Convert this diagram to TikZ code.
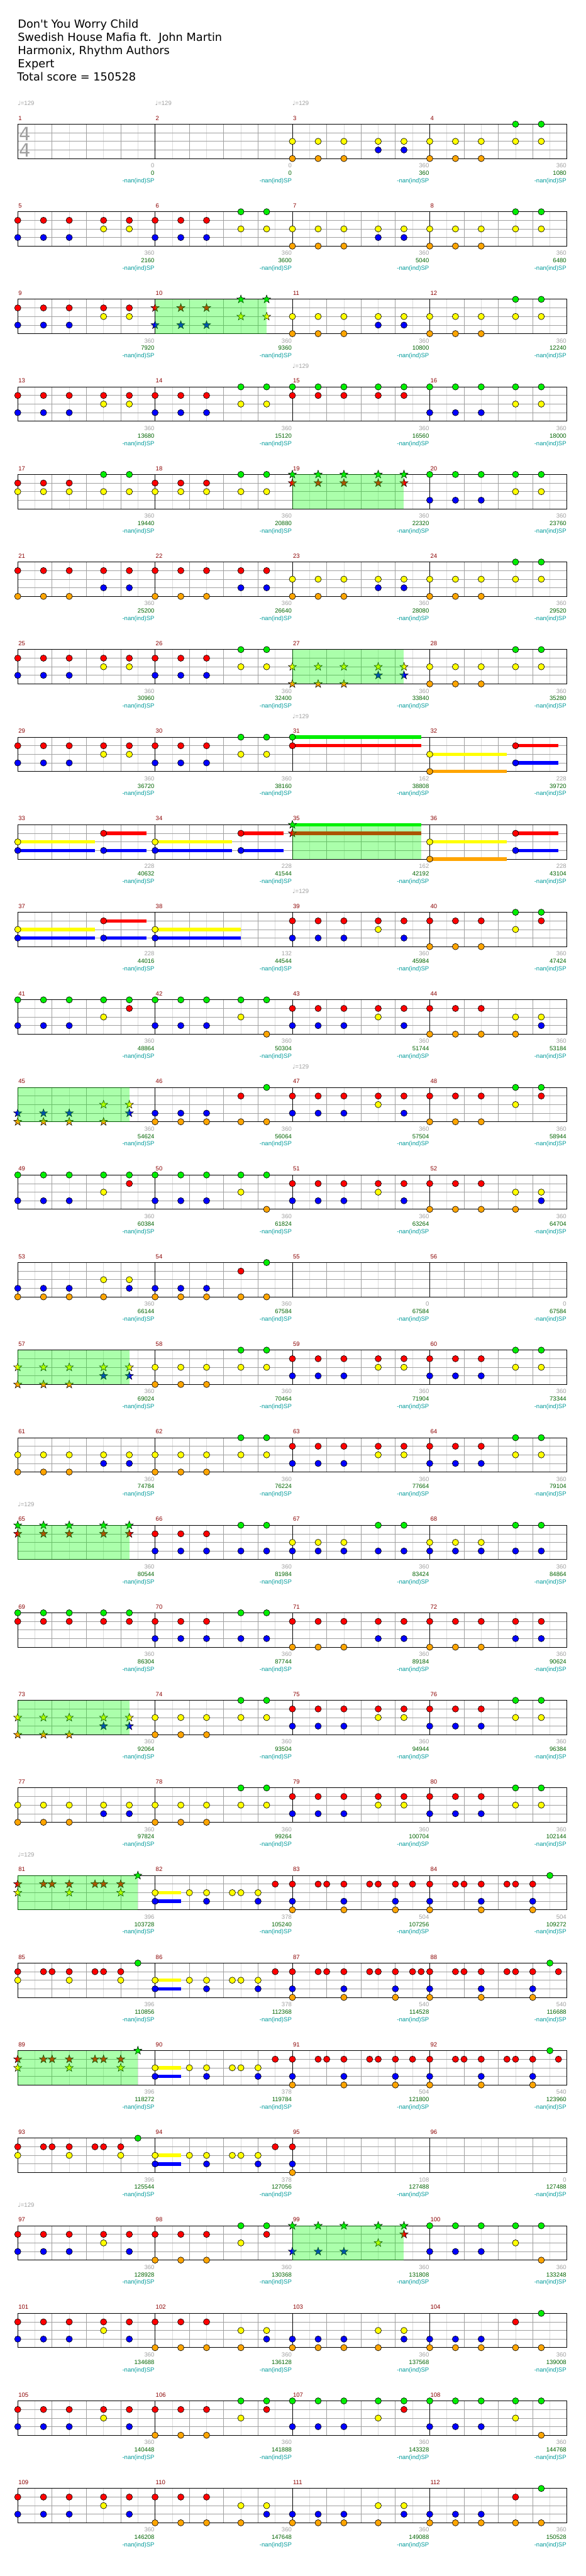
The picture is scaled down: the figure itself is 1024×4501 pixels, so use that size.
\documentclass[tikz,border=0pt]{standalone}
\usepackage{fontspec}
\setmainfont{DejaVu Sans}
\newfontfamily\headfont{DejaVu Sans}
\newfontfamily\smallfont{Liberation Sans}

\definecolor{n-g}{HTML}{00EE00}
\definecolor{n-r}{HTML}{FF0000}
\definecolor{n-y}{HTML}{FFFF00}
\definecolor{n-b}{HTML}{0000FF}
\definecolor{n-o}{HTML}{FFA500}
\definecolor{linegray}{HTML}{A0A0A0}
\definecolor{halfgray}{HTML}{DCDCDC}
\definecolor{numred}{HTML}{8B0000}
\definecolor{totgreen}{HTML}{006400}
\definecolor{spteal}{HTML}{009B9B}
\definecolor{spgreen}{HTML}{00FF00}

% lane of each fret colour, 0 = top line
\def\lng{0}\def\lnr{1}\def\lny{2}\def\lnb{3}\def\lno{4}

% \mx, \my = left edge and top line of measure #1
\newcommand{\morigin}[1]{%
  \pgfmathtruncatemacro{\mrow}{div(#1-1,4)}%
  \pgfmathtruncatemacro{\mcol}{mod(#1-1,4)}%
  \pgfmathsetmacro{\mx}{31+240*\mcol}%
  \pgfmathsetmacro{\my}{217+153*\mrow}}

\newcommand{\gem}[3]{\morigin{#1}%
  \fill[n-#3, draw=black, line width=.7pt]
    ({\mx+60*#2},{\my+15*\csname ln#3\endcsname}) circle (5.5pt);}
\newcommand{\sgem}[3]{\morigin{#1}%
  \draw[fill=n-#3, line width=.6pt,
        shift={({\mx+60*#2},{\my+15*\csname ln#3\endcsname})}]
    (90:7.5pt) -- (126:3pt) -- (162:7.5pt) -- (198:3pt) -- (234:7.5pt)
    -- (270:3pt) -- (306:7.5pt) -- (342:3pt) -- (18:7.5pt) -- (54:3pt) -- cycle;}
\newcommand{\chord}[4][\gem]{\foreach \lane in {#4} {#1{#2}{#3}{\lane}}}
\newcommand{\pat}[7][\gem]{%
  \chord[#1]{#2}{0}{#3}\chord[#1]{#2}{0.75}{#4}\chord[#1]{#2}{1.5}{#5}%
  \chord[#1]{#2}{2.5}{#6}\chord[#1]{#2}{3.25}{#7}}
\newcommand{\sus}[5][\gem]{\morigin{#2}%
  \fill[n-#3] ({\mx+60*#4},{\my+15*\csname ln#3\endcsname-3})
    rectangle ({\mx+60*#5},{\my+15*\csname ln#3\endcsname+3});
  #1{#2}{#4}{#3}}
\newcommand{\riffA}[2][\gem]{%
  \foreach \bt in {0,0.75,1,1.5,2.25,2.5,3} {#1{#2}{\bt}{r}}%
  \foreach \bt in {0,1.5,3} {#1{#2}{\bt}{y}}%
  #1{#2}{3.5}{g}}
\newcommand{\riffB}[1]{%
  \sus{#1}{y}{0}{0.75}\sus{#1}{b}{0}{0.75}%
  \foreach \bt in {1,1.5,2.25,2.5,3} {\gem{#1}{\bt}{y}}%
  \gem{#1}{1.5}{b}\gem{#1}{3}{b}\gem{#1}{3.5}{r}}
\newcommand{\riffC}[1]{%
  \foreach \bt in {0,1.5,3} {\chord{#1}{\bt}{r,b,o}}%
  \foreach \bt in {0.75,1,2.25,2.5} {\gem{#1}{\bt}{r}}}
\newcommand{\sprect}[3]{\morigin{#1}%
  \fill[spgreen, opacity=.33] ({\mx+60*#2},\my) rectangle ({\mx+60*#3},{\my+60});}

\newcommand{\labelsize}{\smallfont\fontsize{10.5}{12}\selectfont}
\tikzset{
  headtext/.style={font=\headfont\fontsize{19.5}{23}\selectfont, anchor=base west, inner sep=0},
  sigtext/.style={font=\headfont\fontsize{32}{32}\selectfont, text=linegray, inner sep=0},
  tempotext/.style={font=\labelsize, text=linegray, anchor=base west, inner sep=0},
  numtext/.style={font=\labelsize, text=numred, anchor=base west, inner sep=0},
  gaintext/.style={font=\labelsize, text=linegray, anchor=base east, inner sep=0},
  tottext/.style={font=\labelsize, text=totgreen, anchor=base east, inner sep=0},
  sptext/.style={font=\labelsize, text=spteal, anchor=base east, inner sep=0}
}

\begin{document}
\begin{tikzpicture}[x=1pt, y=-1pt]
\fill[white] (0,0) rectangle (1024,4501);
\useasboundingbox (0,0) rectangle (1024,4501);

\node[headtext] (title) at (31,49) {Don't You Worry Child};
\node[headtext] (artist) at (31,72) {Swedish House Mafia ft.\ \ John Martin};
\node[headtext] (charter) at (31,95) {Harmonix, Rhythm Authors};
\node[headtext] (level) at (31,118) {Expert};
\node[headtext] (total) at (30,141) {Total score = 150528};

% staves
\foreach \r in {0,...,27} {
  \pgfmathsetmacro{\rowtop}{217+153*\r}
  \foreach \k in {0,...,15}
    {\draw[halfgray, line width=.8pt] ({61+60*\k},\rowtop) -- ++(0,60);}
  \foreach \k in {1,2,3,5,6,7,9,10,11,13,14,15}
    {\draw[linegray, line width=.8pt] ({31+60*\k},\rowtop) -- ++(0,60);}
  \foreach \lanei in {1,2,3}
    {\draw[linegray, line width=.8pt] (31,{\rowtop+15*\lanei}) -- (991,{\rowtop+15*\lanei});}
  \foreach \k in {1,2,3}
    {\draw[line width=.9pt] ({31+240*\k},\rowtop) -- ++(0,60);}
  \draw[line width=1pt] (31,\rowtop) rectangle (991,{\rowtop+60});
}
\node[sigtext] (sig-top) at (44,233.5) {4};
\node[sigtext] (sig-bot) at (44,262.5) {4};

% five hits per measure
\foreach \mm in {3,7,11,23,61,77} {\pat{\mm}{y,o}{y,o}{y,o}{y,b}{y,b}}
\foreach \mm in {27,57,73} {\pat[\sgem]{\mm}{y,o}{y,o}{y,o}{y,b}{y,b}}
\foreach \mm in {4,8,12,24,28,58,62,74,78} {\pat{\mm}{y,o}{y,o}{y,o}{g,y}{g,y}}
\foreach \mm in {5,9,13,25,29,59,63,75,79} {\pat{\mm}{r,b}{r,b}{r,b}{r,y}{r,y}}
\foreach \mm in {6,14,26,30,60,64,76,80} {\pat{\mm}{r,b}{r,b}{r,b}{g,y}{g,y}}
\pat[\sgem]{10}{r,b}{r,b}{r,b}{g,y}{g,y}
\foreach \mm in {15,69} {\pat{\mm}{g,r}{g,r}{g,r}{g,r}{g,r}}
\foreach \mm in {19,65} {\pat[\sgem]{\mm}{g,r}{g,r}{g,r}{g,r}{g,r}}
\foreach \mm in {16,20} {\pat{\mm}{g,b}{g,b}{g,b}{g,y}{g,y}}
\foreach \mm in {17,18} {\pat{\mm}{r,y}{r,y}{r,y}{g,y}{g,y}}
\foreach \mm in {21,22,71,72} {\pat{\mm}{r,o}{r,o}{r,o}{r,b}{r,b}}
\foreach \mm in {39,43,47,51,97,101,105,109} {\pat{\mm}{r,b}{r,b}{r,b}{r,y}{r,b}}
\foreach \mm in {40,48,98,106} {\pat{\mm}{r,o}{r,o}{r,o}{g,y}{g,r}}
\foreach \mm in {41,49,107} {\pat{\mm}{g,b}{g,b}{g,b}{g,y}{g,r}}
\pat[\sgem]{99}{g,b}{g,b}{g,b}{g,y}{g,r}
\foreach \mm in {42,50,100,108} {\pat{\mm}{g,b}{g,b}{g,b}{g,y}{g,o}}
\foreach \mm in {44,52,102,110} {\pat{\mm}{r,o}{r,o}{r,o}{y,o}{y,b}}
\foreach \mm in {53,103,111} {\pat{\mm}{b,o}{b,o}{b,o}{y,o}{y,b}}
\pat[\sgem]{45}{b,o}{b,o}{b,o}{y,o}{y,b}
\foreach \mm in {46,54,104,112} {\pat{\mm}{b,o}{b,o}{b,o}{r,o}{g,o}}
\foreach \mm in {66,70} {\pat{\mm}{r,b}{r,b}{r,b}{g,b}{g,b}}
\foreach \mm in {67,68} {\pat{\mm}{y,b}{y,b}{y,b}{g,b}{g,b}}

% sustains
\sus{31}{g}{0}{3.75}\sus{31}{r}{0}{3.75}
\foreach \mm in {32,36} {\sus{\mm}{y}{0}{2.25}\sus{\mm}{o}{0}{2.25}}
\foreach \mm in {33,34,37} {\sus{\mm}{y}{0}{2.25}\sus{\mm}{b}{0}{2.25}}
\foreach \mm in {32,33,34,36,37} {\sus{\mm}{r}{2.5}{3.75}\sus{\mm}{b}{2.5}{3.75}}
\sus[\sgem]{35}{g}{0}{3.75}\sus[\sgem]{35}{r}{0}{3.75}
\sus{38}{y}{0}{2.5}\sus{38}{b}{0}{2.5}

% sixteenths
\riffA[\sgem]{81}\riffA{85}\riffA[\sgem]{89}\riffA{93}
\foreach \mm in {82,86,90,94} {\riffB{\mm}}
\foreach \mm in {83,84,87,88,91,92} {\riffC{\mm}}
\foreach \mm in {83,87,91} {\gem{\mm}{3.5}{r}}
\foreach \mm in {84,88,92} {\gem{\mm}{3.5}{g}}
\foreach \mm in {87,88,92} {\gem{\mm}{3.75}{r}}
\chord{95}{0}{r,b,o}

% star power phrases
\foreach \mm/\upto in {10/3.25,19/3.25,27/3.25,35/3.75,45/3.25,57/3.25,65/3.25,73/3.25,81/3.5,89/3.5,99/3.25}
  {\sprect{\mm}{0}{\upto}}

\foreach \mm in {1,2,3,15,31,39,47,65,81,97} {
  \morigin{\mm}
  \node[tempotext] (tempo-\mm) at (\mx,\my-33) {{\headfont ♩}=129};
}

\foreach \mm/\gain/\tot in {1/0/0, 2/0/0, 3/360/360, 4/360/1080,
    5/360/2160, 6/360/3600, 7/360/5040, 8/360/6480,
    9/360/7920, 10/360/9360, 11/360/10800, 12/360/12240,
    13/360/13680, 14/360/15120, 15/360/16560, 16/360/18000,
    17/360/19440, 18/360/20880, 19/360/22320, 20/360/23760,
    21/360/25200, 22/360/26640, 23/360/28080, 24/360/29520,
    25/360/30960, 26/360/32400, 27/360/33840, 28/360/35280,
    29/360/36720, 30/360/38160, 31/162/38808, 32/228/39720,
    33/228/40632, 34/228/41544, 35/162/42192, 36/228/43104,
    37/228/44016, 38/132/44544, 39/360/45984, 40/360/47424,
    41/360/48864, 42/360/50304, 43/360/51744, 44/360/53184,
    45/360/54624, 46/360/56064, 47/360/57504, 48/360/58944,
    49/360/60384, 50/360/61824, 51/360/63264, 52/360/64704,
    53/360/66144, 54/360/67584, 55/0/67584, 56/0/67584,
    57/360/69024, 58/360/70464, 59/360/71904, 60/360/73344,
    61/360/74784, 62/360/76224, 63/360/77664, 64/360/79104,
    65/360/80544, 66/360/81984, 67/360/83424, 68/360/84864,
    69/360/86304, 70/360/87744, 71/360/89184, 72/360/90624,
    73/360/92064, 74/360/93504, 75/360/94944, 76/360/96384,
    77/360/97824, 78/360/99264, 79/360/100704, 80/360/102144,
    81/396/103728, 82/378/105240, 83/504/107256, 84/504/109272,
    85/396/110856, 86/378/112368, 87/540/114528, 88/540/116688,
    89/396/118272, 90/378/119784, 91/504/121800, 92/540/123960,
    93/396/125544, 94/378/127056, 95/108/127488, 96/0/127488,
    97/360/128928, 98/360/130368, 99/360/131808, 100/360/133248,
    101/360/134688, 102/360/136128, 103/360/137568, 104/360/139008,
    105/360/140448, 106/360/141888, 107/360/143328, 108/360/144768,
    109/360/146208, 110/360/147648, 111/360/149088, 112/360/150528} {
  \morigin{\mm}
  \node[numtext] (num-\mm) at (\mx+1,\my-7) {\mm};
  \node[gaintext] (gain-\mm) at (\mx+239,\my+76) {\gain};
  \node[tottext] (tot-\mm) at (\mx+239,\my+89) {\tot};
  \node[sptext] (sp-\mm) at (\mx+239,\my+102) {-nan(ind)SP};
}
\end{tikzpicture}
\end{document}
